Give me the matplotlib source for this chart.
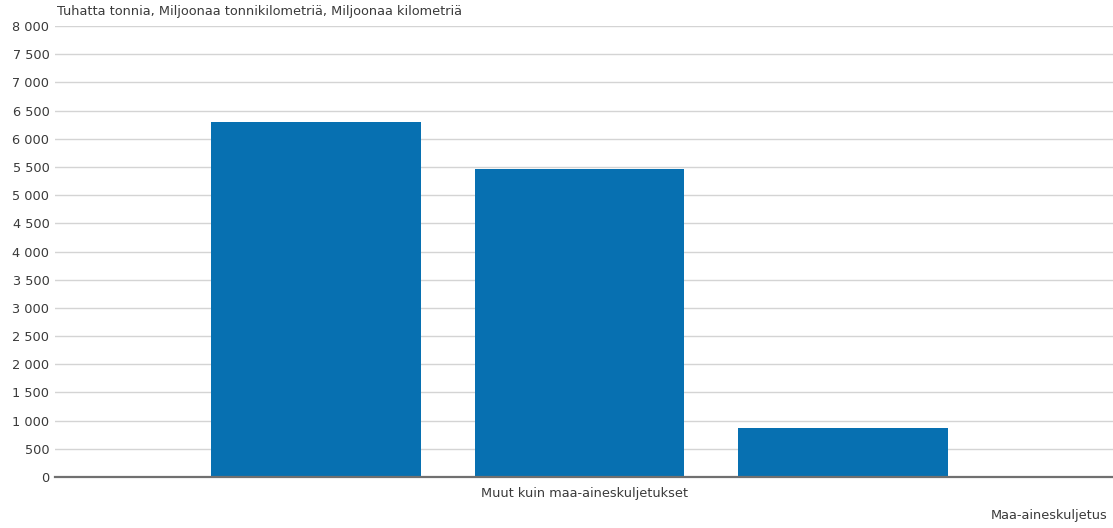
import matplotlib
matplotlib.use("Agg")
import matplotlib.pyplot as plt
from matplotlib.ticker import FuncFormatter, MultipleLocator

# Data
categories = ["Muut kuin maa-aineskuljetukset", "Maa-aineskuljetus"]
series = ["Tuhatta tonnia", "Miljoonaa tonnikilometriä", "Miljoonaa kilometriä"]
values = [6300, 5460, 870]
y_title = "Tuhatta tonnia, Miljoonaa tonnikilometriä, Miljoonaa kilometriä"

plt.rcParams['font.family'] = ['DejaVu Sans']
FS = 9.3
TXT = "#3a3a3a"

fig = plt.figure(figsize=(11.13, 5.28), dpi=100)
ax = fig.add_axes([55/1113, 1 - 477/528, (1113 - 55)/1113, 451/528])

bar_color = "#0770b1"
positions = list(range(len(values)))
ax.bar(positions, values, width=0.795, color=bar_color, zorder=3)

ax.set_xlim(-0.99, 3.025)
ax.set_ylim(0, 8000)
ax.yaxis.set_major_locator(MultipleLocator(500))
ax.yaxis.set_major_formatter(FuncFormatter(lambda v, p: f"{int(v):,}".replace(",", " ")))
ax.grid(axis='y', color="#d4d4d4", linewidth=1, zorder=0)
ax.set_axisbelow(True)
for s in ["top", "right", "left"]:
    ax.spines[s].set_visible(False)
ax.spines["bottom"].set_color("#707070")
ax.spines["bottom"].set_linewidth(1.6)
ax.spines["bottom"].set_zorder(4)
ax.tick_params(axis='y', length=0, pad=4, labelsize=FS, labelcolor=TXT)
ax.set_xticks([])

# category labels
ax.text(585/1113, 1 - 493/528, categories[0], transform=fig.transFigure,
        ha='center', va='center', fontsize=FS, color=TXT)
ax.text(1108/1113, 1 - 516/528, categories[1], transform=fig.transFigure,
        ha='right', va='center', fontsize=FS, color=TXT)

# axis title
fig.text(57/1113, 1 - 12/528, y_title, ha='left', va='center',
         fontsize=FS, color=TXT)

fig.savefig("out.png", dpi=100, facecolor="white")
